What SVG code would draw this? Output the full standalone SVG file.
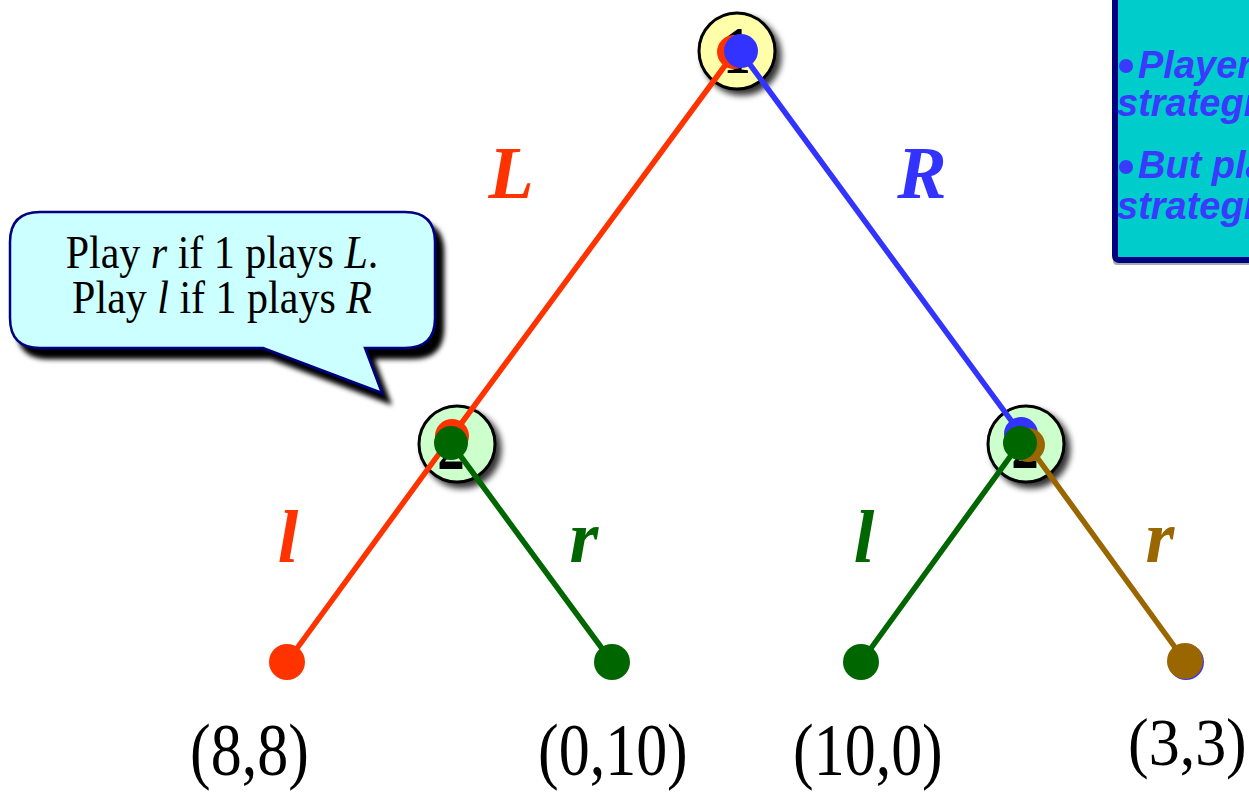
<svg xmlns="http://www.w3.org/2000/svg" width="1249" height="792" viewBox="0 0 1249 792">
<defs>
<filter id="sh" x="-30%" y="-30%" width="170%" height="170%">
<feGaussianBlur in="SourceAlpha" stdDeviation="3"/>
<feOffset dx="5" dy="5" result="b"/>
<feComponentTransfer><feFuncA type="linear" slope="0.8"/></feComponentTransfer>
<feMerge><feMergeNode/><feMergeNode in="SourceGraphic"/></feMerge>
</filter>
<filter id="csh" x="-10%" y="-10%" width="130%" height="140%">
<feGaussianBlur in="SourceAlpha" stdDeviation="2.5"/>
<feOffset dx="8" dy="10"/>
<feMerge><feMergeNode/><feMergeNode in="SourceGraphic"/></feMerge>
</filter>
<style>
.edge{fill:none;stroke-width:5.5;stroke-linecap:round}
.tnode{stroke:#000;stroke-width:3}
.lbl{font-family:"Liberation Serif",serif;font-weight:bold;font-style:italic;font-size:74px;text-anchor:middle}
.pay{font-family:"Liberation Serif",serif;font-size:62px;fill:#000}
.num{font-family:"Liberation Serif",serif;font-weight:bold;font-size:55px;text-anchor:middle;fill:#000}
.call{font-family:"Liberation Serif",serif;font-size:42px;text-anchor:middle;fill:#000}
.side{font-family:"Liberation Sans",Arial,sans-serif;font-weight:bold;font-style:italic;font-size:38px;fill:#3a3aff}
</style>
</defs>
<rect width="1249" height="792" fill="#fff"/>

<g id="info-box">
<rect x="1113" y="-10" width="200" height="275" rx="4" fill="#aaa"/>
<rect x="1115" y="-10" width="200" height="270" rx="4" fill="#00cccc" stroke="#000080" stroke-width="6"/>
<circle cx="1126" cy="66" r="7" fill="#3a3aff"/>
<text class="side" x="1138" y="78">Player</text>
<text class="side" x="1117" y="116">strategi</text>
<circle cx="1126" cy="167" r="7" fill="#3a3aff"/>
<text class="side" x="1138" y="178">But pla</text>
<text class="side" x="1117" y="219">strategi</text>
</g>

<g id="callout">
<path d="M40,212 H405 Q435,212 435,242 V318 Q435,348 405,348 H365 L382,393 L263,348 H40 Q10,348 10,318 V242 Q10,212 40,212 Z" fill="#ccffff" stroke="#000080" stroke-width="2.5" filter="url(#csh)"/>
<text class="call" transform="translate(222,268) scale(1,1.08)">Play <tspan font-style="italic">r</tspan> if 1 plays <tspan font-style="italic">L</tspan>.</text>
<text class="call" transform="translate(222,313) scale(1,1.08)">Play <tspan font-style="italic">l</tspan> if 1 plays <tspan font-style="italic">R</tspan></text>
</g>

<g id="node-1">
<circle cx="737" cy="51" r="38" fill="#ffffaa" class="tnode" filter="url(#sh)"/>
<text class="num" transform="translate(737,73) scale(1,1.24)">1</text>
</g>
<g id="node-2-left">
<circle cx="457" cy="444" r="38" fill="#ccffcc" class="tnode" filter="url(#sh)"/>
<text class="num" transform="translate(451,469) scale(1,1.24)">2</text>
</g>
<g id="node-2-right">
<circle cx="1026" cy="444" r="38" fill="#ccffcc" class="tnode" filter="url(#sh)"/>
<text class="num" transform="translate(1025,468) scale(1,1.24)">2</text>
</g>

<g id="connectors">
<line class="edge" stroke="#ff3300" x1="735" y1="52" x2="452" y2="436"/>
<line class="edge" stroke="#3333ff" x1="740" y1="51" x2="1021" y2="434"/>
<line class="edge" stroke="#ff3300" x1="452" y1="436" x2="287" y2="662"/>
<line class="edge" stroke="#006600" x1="451" y1="443" x2="612" y2="662"/>
<line class="edge" stroke="#006600" x1="1020" y1="443" x2="861" y2="662"/>
<line class="edge" stroke="#996600" x1="1028" y1="445" x2="1185" y2="661"/>
<text class="lbl" fill="#ff3300" x="511" y="198">L</text>
<text class="lbl" fill="#3333ff" x="922" y="198">R</text>
<text class="lbl" fill="#ff3300" x="288" y="562">l</text>
<text class="lbl" fill="#006600" x="584" y="562">r</text>
<text class="lbl" fill="#006600" x="864" y="562">l</text>
<text class="lbl" fill="#996600" x="1160" y="562">r</text>
</g>

<g id="edge-ends">
<circle cx="734" cy="52" r="17" fill="#ff3300"/>
<circle cx="741" cy="51" r="17" fill="#3333ff"/>
<circle cx="452" cy="436" r="17" fill="#ff3300"/>
<circle cx="451" cy="443" r="17" fill="#006600"/>
<circle cx="1021" cy="434" r="17" fill="#3333ff"/>
<circle cx="1028" cy="445" r="17" fill="#996600"/>
<circle cx="1020" cy="443" r="17" fill="#006600"/>
</g>

<g id="leaf-ll">
<circle cx="287" cy="662" r="18" fill="#ff3300"/>
<text class="pay" transform="translate(190,775) scale(1,1.2)">(8,8)</text>
</g>
<g id="leaf-lr">
<circle cx="612" cy="662" r="18" fill="#006600"/>
<text class="pay" transform="translate(538,775) scale(1,1.2)">(0,10)</text>
</g>
<g id="leaf-rl">
<circle cx="861" cy="662" r="18" fill="#006600"/>
<text class="pay" transform="translate(793,775) scale(1,1.2)">(10,0)</text>
</g>
<g id="leaf-rr">
<circle cx="1186" cy="662" r="18" fill="#3333ff"/>
<circle cx="1185" cy="661" r="18" fill="#996600"/>
<text class="pay" transform="translate(1128,765) scale(1,1.1)" font-size="57">(3,3)</text>
</g>
</svg>
